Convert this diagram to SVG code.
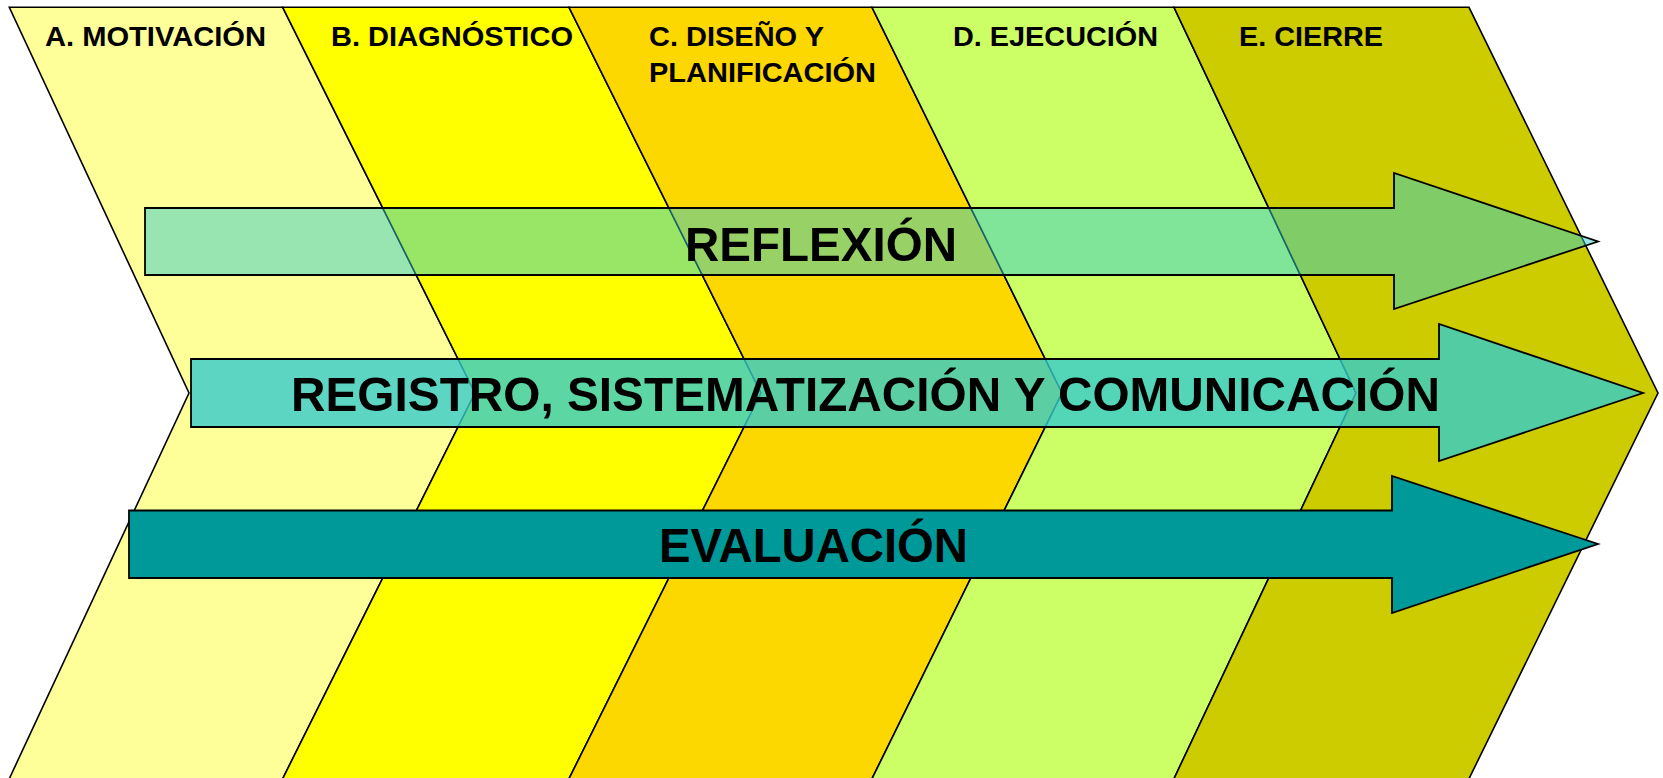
<svg xmlns="http://www.w3.org/2000/svg" width="1663" height="778" viewBox="0 0 1663 778">
<style>
.chev{stroke:#000;stroke-width:1.6;stroke-linejoin:miter}
.arr{stroke:#000;stroke-width:1.8;stroke-linejoin:miter}
.hd{font-family:"Liberation Sans",Arial,sans-serif;font-weight:bold;font-size:28.5px;fill:#000}
.big{font-family:"Liberation Sans",Arial,sans-serif;font-weight:bold;font-size:48.5px;fill:#000}
</style>
<rect x="0" y="0" width="1663" height="778" fill="#fff"/>
<g id="phase-a">
<polygon class="chev" fill="#FFFF99" points="9.3,7.3 282.7,7.3 475,393 282.7,778.7 9.3,778.7 189,393"/>
<text class="hd" x="45" y="45.7" textLength="221" lengthAdjust="spacingAndGlyphs">A. MOTIVACIÓN</text>
</g>
<g id="phase-b">
<polygon class="chev" fill="#FFFF00" points="282.7,7.3 569,7.3 761,393 569,778.7 282.7,778.7 475,393"/>
<text class="hd" x="331" y="45.7" textLength="242" lengthAdjust="spacingAndGlyphs">B. DIAGNÓSTICO</text>
</g>
<g id="phase-c">
<polygon class="chev" fill="#FDD700" points="569,7.3 872,7.3 1062,393 872,778.7 569,778.7 761,393"/>
<text class="hd" x="649" y="45.7" textLength="175" lengthAdjust="spacingAndGlyphs">C. DISEÑO Y</text>
<text class="hd" x="649" y="81.7" textLength="227" lengthAdjust="spacingAndGlyphs">PLANIFICACIÓN</text>
</g>
<g id="phase-d">
<polygon class="chev" fill="#CCFF66" points="872,7.3 1174,7.3 1356,393 1174,778.7 872,778.7 1062,393"/>
<text class="hd" x="953" y="45.7" textLength="205" lengthAdjust="spacingAndGlyphs">D. EJECUCIÓN</text>
</g>
<g id="phase-e">
<polygon class="chev" fill="#CCCC00" points="1174,7.3 1469,7.3 1658,393 1469,778.7 1174,778.7 1356,393"/>
<text class="hd" x="1239" y="45.7" textLength="144" lengthAdjust="spacingAndGlyphs">E. CIERRE</text>
</g>
<g id="connectors"></g>
<g id="arrow-reflexion">
<polygon class="arr" fill="#33CCCC" fill-opacity="0.5" points="145,208 1394,208 1394,173 1598,241.5 1394,309 1394,275 145,275"/>
<text class="big" x="685" y="260.7" textLength="272" lengthAdjust="spacingAndGlyphs">REFLEXIÓN</text>
</g>
<g id="arrow-registro">
<polygon class="arr" fill="#33CCCC" fill-opacity="0.8" points="191,359 1439,359 1439,324 1643,393 1439,461 1439,427 191,427"/>
<text class="big" x="291" y="411" textLength="1149" lengthAdjust="spacingAndGlyphs">REGISTRO, SISTEMATIZACIÓN Y COMUNICACIÓN</text>
</g>
<g id="arrow-evaluacion">
<polygon class="arr" fill="#009999" points="129,510.5 1392,510.5 1392,476 1598,544 1392,613 1392,578 129,578"/>
<text class="big" x="659" y="561.7" textLength="309" lengthAdjust="spacingAndGlyphs">EVALUACIÓN</text>
</g>
</svg>
